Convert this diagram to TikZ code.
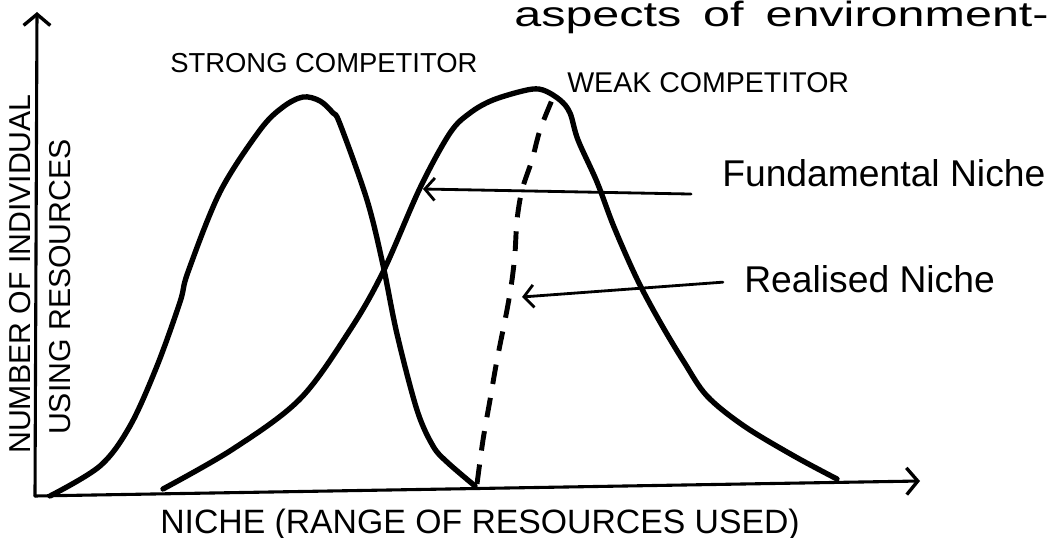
\documentclass[tikz,border=0pt]{standalone}
\usepackage{fontspec}
\usepackage{graphicx}
\setmainfont{Liberation Sans}
\usetikzlibrary{arrows.meta}
\begin{document}
\begin{tikzpicture}[x=0.025cm,y=-0.025cm,
  curve/.style={line width=3.8pt,line cap=round,line join=round},
  axis/.style={line width=2.2pt,line cap=round,-{Straight Barb[length=8pt,width=19pt,line width=2.4pt]}},
  pointer/.style={line width=2pt,line cap=round,-{Straight Barb[length=7pt,width=16pt,line width=2pt]}},
  dashline/.style={line width=3.5pt,dash pattern=on 14pt off 10pt},
  lbl/.style={inner sep=0pt,anchor=base west},
  caps/.style={font=\fontsize{19.5}{22}\selectfont},
  cursive/.style={font=\fontsize{26.5}{30}\selectfont},
  ylbl/.style={inner sep=0pt,rotate=90,font=\fontsize{21.5}{24}\selectfont}]
\useasboundingbox (0,0) rectangle (1054,538);
% axes
\coordinate (O) at (35,496);
\coordinate (ytip) at (37,12);
\coordinate (xtip) at (920,481);
\draw[axis] (O) -- (ytip);
\draw[axis] (O) -- (xtip);
% curves
\draw[curve] plot[smooth,tension=0.55] coordinates {(50,496) (100,466) (130,426) (157,366) (180,302) (188,272) (220,192) (260,130) (283,107) (303,97) (320,101) (333,113) (340,124) (367,200) (383,265) (397,334) (417,410) (433,446) (447,462) (475,486)};
\draw[curve] plot[smooth,tension=0.55] coordinates {(163,489) (233,449) (300,399) (350,330) (383,272) (420,188) (450,133) (470,113) (493,100) (527,90) (543,90) (560,100) (570,113) (578,140) (597,182) (614,227) (637,279) (660,322) (684,362) (707,396) (744,426) (794,456) (837,479)};
\draw[dashline] plot[smooth,tension=0.5] coordinates {(477,484) (483,440) (490,400) (497,360) (507,310) (512,280) (515,253) (517,220) (522,190) (532,160) (540,130) (552,100)};
% labels
\node[lbl,font=\fontsize{25}{28}\selectfont] (title) at (514,27) {\scalebox{1.38}[1]{aspects\hspace{0.45em}of\hspace{0.45em}environment-}};
\node[lbl,caps] (strong) at (170,73) {STRONG COMPETITOR};
\node[lbl,caps,font=\fontsize{20.3}{23}\selectfont] (weak) at (567,93) {WEAK COMPETITOR};
\node[lbl,cursive] (fund) at (722,187) {Fundamental Niche};
\node[lbl,cursive] (real) at (744,292) {Realised Niche};
\node[lbl,font=\fontsize{24}{27}\selectfont] (xlabel) at (160,533) {NICHE (RANGE OF RESOURCES USED)};
\node[ylbl] (ylabA) at (20,274) {NUMBER OF INDIVIDUAL};
\node[ylbl] (ylabB) at (60,287) {USING RESOURCES};
% pointers
\coordinate (fn) at (423,189);
\coordinate (rn) at (522,297);
\draw[pointer] ([xshift=-22pt,yshift=-5pt]fund.base west) -- (fn);
\draw[pointer] ([xshift=-15pt,yshift=7pt]real.base west) -- (rn);
\end{tikzpicture}
\end{document}
